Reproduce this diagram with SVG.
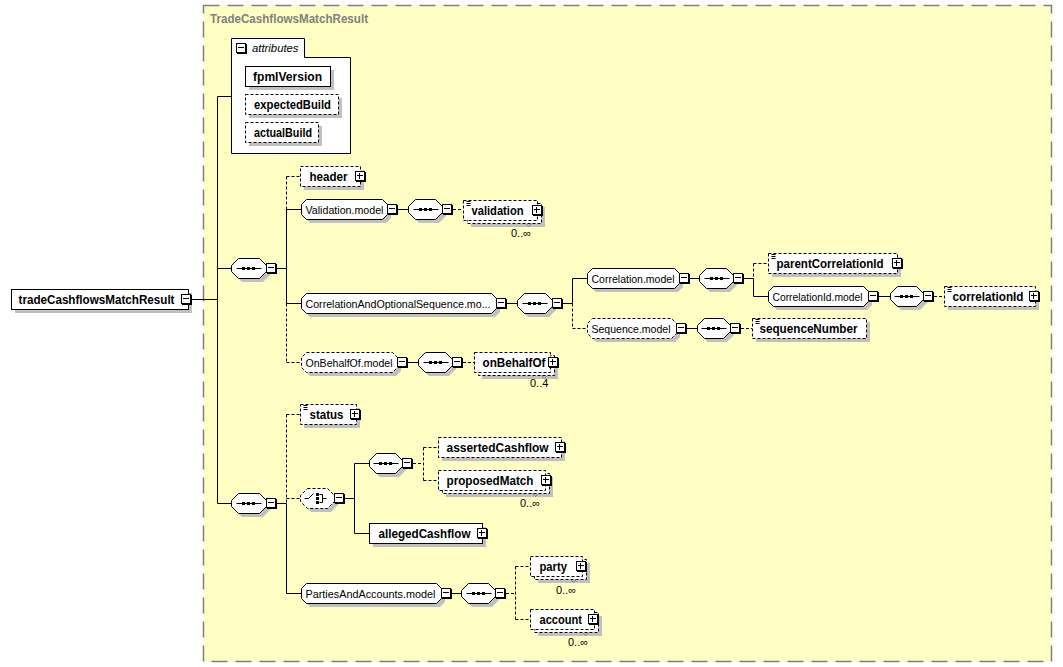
<svg xmlns="http://www.w3.org/2000/svg" xmlns:xlink="http://www.w3.org/1999/xlink" width="1063" height="667" viewBox="0 0 1063 667">
<style>
.ct{fill:#ffffc4;stroke:#808080;stroke-width:1.5;stroke-dasharray:16 8}
.sh{fill:#c0c0c0}
.s{fill:#fff;stroke:#000;stroke-width:1}
.d{fill:#fff;stroke:#000;stroke-width:1;stroke-dasharray:3 2}
.ln{fill:none;stroke:#000;stroke-width:1}
.dl{fill:none;stroke:#000;stroke-width:1;stroke-dasharray:3 2}
.b{font-family:"Liberation Sans",Arial,sans-serif;font-size:12px;font-weight:bold;fill:#000}
.r{font-family:"Liberation Sans",Arial,sans-serif;font-size:11.5px;fill:#000}
.o{font-family:"Liberation Sans",Arial,sans-serif;font-size:11px;fill:#000}
.it{font-family:"Liberation Sans",Arial,sans-serif;font-size:11.5px;font-style:italic;fill:#000}
.tt{font-family:"Liberation Sans",Arial,sans-serif;font-size:12px;font-weight:bold;fill:#808080}
.tk{fill:none;stroke:#808080;stroke-width:1}
</style>
<defs>
<g id="mi"><rect x="0.5" y="0.5" width="10" height="10" fill="#000"/><rect x="0" y="0" width="9" height="9" fill="#fff" stroke="#000"/><path d="M1.5,4H7.5" stroke="#000"/></g>
<g id="pl"><rect x="0.5" y="0.5" width="10" height="10" fill="#000"/><rect x="0" y="0" width="9" height="9" fill="#fff" stroke="#000"/><path d="M1.5,4H7.5M4,1.5V7.5" stroke="#000"/></g>
<g id="seq"><path d="M5,10H30" stroke="#000"/><rect x="10.5" y="8.5" width="3" height="3"/><rect x="15.5" y="8.5" width="3" height="3"/><rect x="20.5" y="8.5" width="3" height="3"/></g>
<g id="eq"><path d="M3,1H7M3,3H7M3,5H7" stroke="#000"/></g>
</defs>
<rect width="1063" height="667" fill="#fff"/>
<rect class="ct" x="203.5" y="5.5" width="848" height="656"/>
<text class="tt" x="210" y="22.5" textLength="158" lengthAdjust="spacingAndGlyphs">TradeCashflowsMatchResult</text>

<g id="connectors">
<path class="ln" d="M192,299.5H217.5M217.5,96.5V503.5M217.5,96.5H231M217.5,268.5H231M217.5,503.5H231M277,268.5H286.5M286.5,209.5V303.5M286.5,209.5H301M286.5,303.5H301M398,209.5H408M507,303.5H517M563,303.5H572.5M572.5,278.5V303.5M572.5,278.5H587M690,278.5H699M744,278.5H753.5M753.5,278.5V296.5M753.5,296.5H768M879,296.5H890M687,328.5H697M408,362.5H418M277,503.5H286.5M286.5,503.5V593.5M286.5,593.5H301M345,498.5H354.5M354.5,463.5V533.5M354.5,463.5H369M354.5,533.5H369M452,593.5H461"/>
<path class="dl" d="M286.5,176.5V209.5M286.5,176.5H300M286.5,303.5V362.5M286.5,362.5H301M453,209.5H463M572.5,303.5V328.5M572.5,328.5H587M753.5,263.5V278.5M753.5,263.5H768M934,296.5H944M741,328.5H752M463,362.5H474M286.5,414.5V503.5M286.5,414.5H300M286.5,498.5H300M413,463.5H423.5M423.5,447.5V480.5M423.5,447.5H438M423.5,480.5H438M506,593.5H515.5M515.5,566.5V619.5M515.5,566.5H530M515.5,619.5H530"/>
</g>

<g id="root" transform="translate(11.5,289.5)"><rect class="sh" x="3.5" y="3.5" width="177" height="20"/><rect class="s" width="177" height="20"/><text class="b" x="7" y="14" textLength="156" lengthAdjust="spacingAndGlyphs">tradeCashflowsMatchResult</text><use xlink:href="#mi" x="170" y="5"/></g>

<g id="attributes">
<path class="s" d="M231.5,38.5H304.5V57.5H350.5V153.5H231.5Z"/>
<use xlink:href="#mi" x="236.5" y="43.5"/>
<text class="it" x="252" y="52" textLength="46.5" lengthAdjust="spacingAndGlyphs">attributes</text>
<rect class="sh" x="249" y="70" width="85" height="20"/><rect class="s" x="245.5" y="66.5" width="85" height="20"/><text class="b" x="253" y="80.5" textLength="69" lengthAdjust="spacingAndGlyphs">fpmlVersion</text>
<rect class="sh" x="249" y="98" width="93" height="20"/><rect class="d" x="245.5" y="94.5" width="93" height="20"/><text class="b" x="254" y="108.5" textLength="77" lengthAdjust="spacingAndGlyphs">expectedBuild</text>
<rect class="sh" x="249" y="126" width="73" height="20"/><rect class="d" x="245.5" y="122.5" width="73" height="20"/><text class="b" x="254" y="136.5" textLength="58" lengthAdjust="spacingAndGlyphs">actualBuild</text>
</g>

<g id="seq1" transform="translate(231.5,258.5)"><polygon class="sh" transform="translate(3.5,3.5)" points="7,0 28,0 35,7 35,13 28,20 7,20 0,13 0,7"/><polygon class="s" points="7,0 28,0 35,7 35,13 28,20 7,20 0,13 0,7"/><use xlink:href="#seq"/><use xlink:href="#mi" x="35" y="5"/></g>

<g id="header" transform="translate(300.5,166.5)"><rect class="sh" x="3.5" y="3.5" width="60" height="20"/><rect class="d" width="60" height="20"/><text class="b" x="9" y="14" textLength="38" lengthAdjust="spacingAndGlyphs">header</text><use xlink:href="#pl" x="55" y="5"/></g>

<g id="validationModel" transform="translate(301.5,199.5)"><polygon class="sh" transform="translate(3.5,3.5)" points="5,0 81,0 86,5 86,15 81,20 5,20 0,15 0,5"/><polygon class="s" points="5,0 81,0 86,5 86,15 81,20 5,20 0,15 0,5"/><text class="r" x="4" y="14" textLength="78" lengthAdjust="spacingAndGlyphs">Validation.model</text><use xlink:href="#mi" x="86" y="5"/></g>
<g id="validationSeq" transform="translate(408.5,199.5)"><polygon class="sh" transform="translate(3.5,3.5)" points="7,0 27,0 34,7 34,13 27,20 7,20 0,13 0,7"/><polygon class="s" points="7,0 27,0 34,7 34,13 27,20 7,20 0,13 0,7"/><use xlink:href="#seq"/><use xlink:href="#mi" x="34" y="5"/></g>
<g id="validation" transform="translate(463.5,200.5)"><rect class="sh" x="7.5" y="6.5" width="74" height="20"/><rect class="d" x="4" y="3" width="74" height="20"/><rect class="d" width="74" height="20"/><use xlink:href="#eq"/><text class="b" x="8" y="14" textLength="52" lengthAdjust="spacingAndGlyphs">validation</text><use xlink:href="#pl" x="69" y="5"/><path class="tk" d="M62,23L65,26L68,23"/></g>
<text class="o" x="511" y="236.5">0..∞</text>

<g id="corrOptSeqModel" transform="translate(301.5,293.5)"><polygon class="sh" transform="translate(3.5,3.5)" points="5,0 190,0 195,5 195,15 190,20 5,20 0,15 0,5"/><polygon class="s" points="5,0 190,0 195,5 195,15 190,20 5,20 0,15 0,5"/><text class="r" x="4" y="14" textLength="185" lengthAdjust="spacingAndGlyphs">CorrelationAndOptionalSequence.mo...</text><use xlink:href="#mi" x="195" y="5"/></g>
<g id="corrOptSeqSeq" transform="translate(517.5,293.5)"><polygon class="sh" transform="translate(3.5,3.5)" points="7,0 28,0 35,7 35,13 28,20 7,20 0,13 0,7"/><polygon class="s" points="7,0 28,0 35,7 35,13 28,20 7,20 0,13 0,7"/><use xlink:href="#seq"/><use xlink:href="#mi" x="35" y="5"/></g>

<g id="correlationModel" transform="translate(587.5,268.5)"><polygon class="sh" transform="translate(3.5,3.5)" points="5,0 87,0 92,5 92,15 87,20 5,20 0,15 0,5"/><polygon class="s" points="5,0 87,0 92,5 92,15 87,20 5,20 0,15 0,5"/><text class="r" x="4" y="14" textLength="83" lengthAdjust="spacingAndGlyphs">Correlation.model</text><use xlink:href="#mi" x="92" y="5"/></g>
<g id="correlationSeq" transform="translate(699.5,268.5)"><polygon class="sh" transform="translate(3.5,3.5)" points="7,0 27,0 34,7 34,13 27,20 7,20 0,13 0,7"/><polygon class="s" points="7,0 27,0 34,7 34,13 27,20 7,20 0,13 0,7"/><use xlink:href="#seq"/><use xlink:href="#mi" x="34" y="5"/></g>
<g id="parentCorrelationId" transform="translate(768.5,253.5)"><rect class="sh" x="3.5" y="3.5" width="129" height="20"/><rect class="d" width="129" height="20"/><use xlink:href="#eq"/><text class="b" x="8" y="14" textLength="107" lengthAdjust="spacingAndGlyphs">parentCorrelationId</text><use xlink:href="#pl" x="124" y="5"/></g>
<g id="correlationIdModel" transform="translate(768.5,286.5)"><polygon class="sh" transform="translate(3.5,3.5)" points="5,0 95,0 100,5 100,15 95,20 5,20 0,15 0,5"/><polygon class="s" points="5,0 95,0 100,5 100,15 95,20 5,20 0,15 0,5"/><text class="r" x="4" y="14" textLength="90" lengthAdjust="spacingAndGlyphs">CorrelationId.model</text><use xlink:href="#mi" x="100" y="5"/></g>
<g id="correlationIdSeq" transform="translate(890.5,286.5)"><polygon class="sh" transform="translate(3.5,3.5)" points="7,0 26,0 33,7 33,13 26,20 7,20 0,13 0,7"/><polygon class="s" points="7,0 26,0 33,7 33,13 26,20 7,20 0,13 0,7"/><use xlink:href="#seq" x="-1"/><use xlink:href="#mi" x="33" y="5"/></g>
<g id="correlationId" transform="translate(944.5,286.5)"><rect class="sh" x="3.5" y="3.5" width="91" height="20"/><rect class="d" width="91" height="20"/><use xlink:href="#eq"/><text class="b" x="8" y="14" textLength="71" lengthAdjust="spacingAndGlyphs">correlationId</text><use xlink:href="#pl" x="85" y="5"/></g>

<g id="sequenceModel" transform="translate(587.5,318.5)"><polygon class="sh" transform="translate(3.5,3.5)" points="5,0 84,0 89,5 89,15 84,20 5,20 0,15 0,5"/><polygon class="d" points="5,0 84,0 89,5 89,15 84,20 5,20 0,15 0,5"/><text class="r" x="4" y="14" textLength="79" lengthAdjust="spacingAndGlyphs">Sequence.model</text><use xlink:href="#mi" x="89" y="5"/></g>
<g id="sequenceSeq" transform="translate(697.5,318.5)"><polygon class="sh" transform="translate(3.5,3.5)" points="7,0 26,0 33,7 33,13 26,20 7,20 0,13 0,7"/><polygon class="s" points="7,0 26,0 33,7 33,13 26,20 7,20 0,13 0,7"/><use xlink:href="#seq" x="-1"/><use xlink:href="#mi" x="33" y="5"/></g>
<g id="sequenceNumber" transform="translate(752.5,318.5)"><rect class="sh" x="3.5" y="3.5" width="114" height="20"/><rect class="d" width="114" height="20"/><use xlink:href="#eq"/><text class="b" x="7" y="14" textLength="98" lengthAdjust="spacingAndGlyphs">sequenceNumber</text></g>

<g id="onBehalfOfModel" transform="translate(301.5,352.5)"><polygon class="sh" transform="translate(3.5,3.5)" points="5,0 91,0 96,5 96,15 91,20 5,20 0,15 0,5"/><polygon class="d" points="5,0 91,0 96,5 96,15 91,20 5,20 0,15 0,5"/><text class="r" x="4" y="14" textLength="87" lengthAdjust="spacingAndGlyphs">OnBehalfOf.model</text><use xlink:href="#mi" x="96" y="5"/></g>
<g id="onBehalfOfSeq" transform="translate(418.5,352.5)"><polygon class="sh" transform="translate(3.5,3.5)" points="7,0 27,0 34,7 34,13 27,20 7,20 0,13 0,7"/><polygon class="s" points="7,0 27,0 34,7 34,13 27,20 7,20 0,13 0,7"/><use xlink:href="#seq"/><use xlink:href="#mi" x="34" y="5"/></g>
<g id="onBehalfOf" transform="translate(474.5,352.5)"><rect class="sh" x="7.5" y="6.5" width="76" height="20"/><rect class="d" x="4" y="3" width="76" height="20"/><rect class="d" width="76" height="20"/><text class="b" x="8" y="14" textLength="63" lengthAdjust="spacingAndGlyphs">onBehalfOf</text><use xlink:href="#pl" x="74" y="5"/><path class="tk" d="M67,23L70,26L73,23"/></g>
<text class="o" x="530" y="387">0..4</text>

<g id="seq2" transform="translate(231.5,493.5)"><polygon class="sh" transform="translate(3.5,3.5)" points="7,0 28,0 35,7 35,13 28,20 7,20 0,13 0,7"/><polygon class="s" points="7,0 28,0 35,7 35,13 28,20 7,20 0,13 0,7"/><use xlink:href="#seq"/><use xlink:href="#mi" x="35" y="5"/></g>
<g id="status" transform="translate(300.5,404.5)"><rect class="sh" x="3.5" y="3.5" width="56" height="20"/><rect class="d" width="56" height="20"/><use xlink:href="#eq"/><text class="b" x="9" y="14" textLength="34" lengthAdjust="spacingAndGlyphs">status</text><use xlink:href="#pl" x="50" y="5"/></g>
<g id="choice" transform="translate(300.5,488.5)"><polygon class="sh" transform="translate(3.5,3.5)" points="7,0 27,0 34,7 34,13 27,20 7,20 0,13 0,7"/><polygon class="d" points="7,0 27,0 34,7 34,13 27,20 7,20 0,13 0,7"/><path class="ln" d="M4,10H8L13,5M19,6H22V14H19M22,10H26"/><rect x="15.5" y="4.5" width="3" height="3"/><rect x="15.5" y="8.5" width="3" height="3"/><rect x="15.5" y="12.5" width="3" height="3"/><use xlink:href="#mi" x="34" y="5"/></g>
<g id="innerSeq" transform="translate(369.5,453.5)"><polygon class="sh" transform="translate(3.5,3.5)" points="7,0 26,0 33,7 33,13 26,20 7,20 0,13 0,7"/><polygon class="s" points="7,0 26,0 33,7 33,13 26,20 7,20 0,13 0,7"/><use xlink:href="#seq" x="-1"/><use xlink:href="#mi" x="33" y="5"/></g>
<g id="assertedCashflow" transform="translate(438.5,437.5)"><rect class="sh" x="3.5" y="3.5" width="123" height="20"/><rect class="d" width="123" height="20"/><text class="b" x="8" y="14" textLength="102" lengthAdjust="spacingAndGlyphs">assertedCashflow</text><use xlink:href="#pl" x="117" y="5"/></g>
<g id="proposedMatch" transform="translate(438.5,470.5)"><rect class="sh" x="7.5" y="6.5" width="107" height="20"/><rect class="d" x="4" y="3" width="107" height="20"/><rect class="d" width="107" height="20"/><text class="b" x="8" y="14" textLength="87" lengthAdjust="spacingAndGlyphs">proposedMatch</text><use xlink:href="#pl" x="103" y="5"/><path class="tk" d="M94,23L97,26L100,23"/></g>
<text class="o" x="520" y="507">0..∞</text>
<g id="allegedCashflow" transform="translate(369.5,523.5)"><rect class="sh" x="3.5" y="3.5" width="113" height="20"/><rect class="s" width="113" height="20"/><text class="b" x="9" y="14" textLength="92" lengthAdjust="spacingAndGlyphs">allegedCashflow</text><use xlink:href="#pl" x="108" y="5"/></g>

<g id="partiesModel" transform="translate(301.5,583.5)"><polygon class="sh" transform="translate(3.5,3.5)" points="5,0 135,0 140,5 140,15 135,20 5,20 0,15 0,5"/><polygon class="s" points="5,0 135,0 140,5 140,15 135,20 5,20 0,15 0,5"/><text class="r" x="4" y="14" textLength="130" lengthAdjust="spacingAndGlyphs">PartiesAndAccounts.model</text><use xlink:href="#mi" x="140" y="5"/></g>
<g id="partiesSeq" transform="translate(461.5,583.5)"><polygon class="sh" transform="translate(3.5,3.5)" points="7,0 27,0 34,7 34,13 27,20 7,20 0,13 0,7"/><polygon class="s" points="7,0 27,0 34,7 34,13 27,20 7,20 0,13 0,7"/><use xlink:href="#seq"/><use xlink:href="#mi" x="34" y="5"/></g>
<g id="party" transform="translate(530.5,556.5)"><rect class="sh" x="7.5" y="6.5" width="52" height="20"/><rect class="d" x="4" y="3" width="52" height="20"/><rect class="d" width="52" height="20"/><text class="b" x="9" y="14" textLength="27.5" lengthAdjust="spacingAndGlyphs">party</text><use xlink:href="#pl" x="46" y="5"/><path class="tk" d="M40,23L43,26L46,23"/></g>
<text class="o" x="556" y="594">0..∞</text>
<g id="account" transform="translate(530.5,609.5)"><rect class="sh" x="7.5" y="6.5" width="64" height="20"/><rect class="d" x="4" y="3" width="64" height="20"/><rect class="d" width="64" height="20"/><text class="b" x="9" y="14" textLength="42.5" lengthAdjust="spacingAndGlyphs">account</text><use xlink:href="#pl" x="58" y="5"/><path class="tk" d="M52,23L55,26L58,23"/></g>
<text class="o" x="568" y="646">0..∞</text>
</svg>
